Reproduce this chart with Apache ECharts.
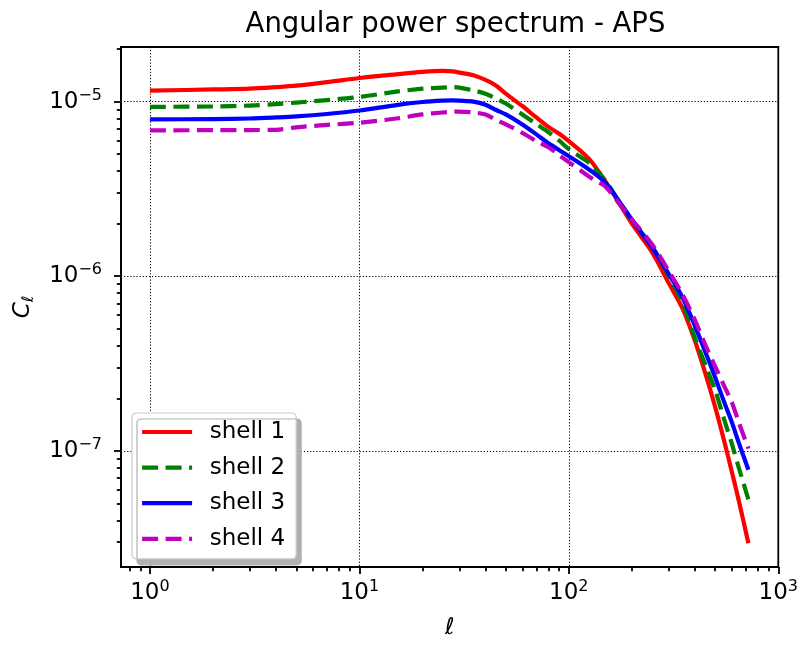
<!DOCTYPE html>
<html>
<head>
<meta charset="utf-8">
<script src="https://cdn.jsdelivr.net/npm/echarts@6/dist/echarts.min.js"></script>
<style>
  html, body { margin: 0; padding: 0; background: #fff; }
  #chart { width: 801px; height: 645px; }
</style>
</head>
<body>
<div id="chart"></div>
<script>
// Multipole moments and the angular power spectrum of each redshift shell
const ell = [1, 2, 3, 4, 5, 7, 10, 15, 20, 25, 28, 30, 35, 40, 45, 50, 60, 70, 80, 90, 100, 120, 130, 150, 170, 200, 250, 300, 350, 400, 450, 500, 550, 600, 650, 720];

const shell1 = [1.155e-5, 1.173e-5, 1.185e-5, 1.209e-5, 1.233e-5, 1.291e-5, 1.364e-5, 1.433e-5, 1.480e-5, 1.500e-5, 1.490e-5, 1.465e-5, 1.414e-5, 1.330e-5, 1.233e-5, 1.110e-5, 9.43e-6, 8.11e-6, 7.16e-6, 6.54e-6, 5.93e-6, 4.93e-6, 4.44e-6, 3.47e-6, 2.74e-6, 2.00e-6, 1.37e-6, 9.13e-7, 6.49e-7, 4.27e-7, 2.74e-7, 1.78e-7, 1.155e-7, 7.6e-8, 5.1e-8, 2.96e-8];
const shell2 = [9.33e-6, 9.37e-6, 9.49e-6, 9.68e-6, 9.87e-6, 1.020e-5, 1.063e-5, 1.140e-5, 1.185e-5, 1.201e-5, 1.209e-5, 1.201e-5, 1.158e-5, 1.110e-5, 1.040e-5, 9.74e-6, 8.44e-6, 7.43e-6, 6.67e-6, 5.97e-6, 5.34e-6, 4.62e-6, 4.27e-6, 3.51e-6, 2.79e-6, 2.08e-6, 1.48e-6, 1.00e-6, 7.02e-7, 4.44e-7, 3.08e-7, 2.22e-7, 1.53e-7, 1.10e-7, 7.9e-8, 5.27e-8];
const shell3 = [7.90e-6, 7.94e-6, 8.00e-6, 8.11e-6, 8.22e-6, 8.49e-6, 8.89e-6, 9.55e-6, 9.94e-6, 1.013e-5, 1.017e-5, 1.013e-5, 1.000e-5, 9.60e-6, 8.95e-6, 8.44e-6, 7.40e-6, 6.49e-6, 5.77e-6, 5.27e-6, 4.87e-6, 4.22e-6, 3.95e-6, 3.42e-6, 2.79e-6, 2.11e-6, 1.46e-6, 1.03e-6, 7.5e-7, 5.2e-7, 3.65e-7, 2.63e-7, 1.92e-7, 1.46e-7, 1.10e-7, 7.80e-8];
const shell4 = [6.84e-6, 6.86e-6, 6.87e-6, 6.89e-6, 7.12e-6, 7.35e-6, 7.57e-6, 8.00e-6, 8.44e-6, 8.66e-6, 8.74e-6, 8.77e-6, 8.66e-6, 8.44e-6, 7.85e-6, 7.40e-6, 6.62e-6, 5.93e-6, 5.48e-6, 4.93e-6, 4.50e-6, 3.85e-6, 3.60e-6, 3.25e-6, 2.70e-6, 2.11e-6, 1.52e-6, 1.07e-6, 7.8e-7, 5.6e-7, 4.0e-7, 3.04e-7, 2.37e-7, 1.90e-7, 1.44e-7, 1.03e-7];

const seriesNames = ['shell 1', 'shell 2', 'shell 3', 'shell 4'];
const seriesColors = ['#ff0000', '#008000', '#0000ff', '#bf00bf'];

// Decade ticks (labelled) and the 2..9 minor ticks between them
const xMajorTicks = [1, 10, 100, 1000];
const yMajorTicks = [1e-7, 1e-6, 1e-5];
const xMinorTicks = [0.8, 0.9, 2, 3, 4, 5, 6, 7, 8, 9, 20, 30, 40, 50, 60, 70, 80, 90, 200, 300, 400, 500, 600, 700, 800, 900];
const yMinorTicks = [3e-8, 4e-8, 5e-8, 6e-8, 7e-8, 8e-8, 9e-8, 2e-7, 3e-7, 4e-7, 5e-7, 6e-7, 7e-7, 8e-7, 9e-7, 2e-6, 3e-6, 4e-6, 5e-6, 6e-6, 7e-6, 8e-6, 9e-6, 2e-5];

const FONT = 'DejaVu Sans';
const X_MIN = Math.pow(10, -29 / 210), X_MAX = 1000;
const Y_MIN = Math.pow(10, -7.665), Y_MAX = Math.pow(10, -4.6875);

const powRich = {
  b: { fontFamily: FONT, fontSize: 23, color: '#000', lineHeight: 28, verticalAlign: 'middle' },
  s: { fontFamily: FONT, fontSize: 16, color: '#000', lineHeight: 16, verticalAlign: 'top' }
};
function powLabel(v) {
  const e = Math.round(Math.log10(v));
  return '{b|10}{s|' + (e < 0 ? '\u2212' + (-e) : e) + '}';
}

const tickLine = { show: true, lineStyle: { color: '#000', width: 1.8 } };
const gridLine = { show: true, lineStyle: { color: '#000', width: 1, type: [1.2, 1.9] } };

const chart = echarts.init(document.getElementById('chart'), null, { renderer: 'canvas' });

chart.setOption({
  animation: false,
  backgroundColor: '#fff',
  title: {
    text: 'Angular power spectrum - APS',
    left: 450.5,
    top: 6,
    textAlign: 'center',
    textStyle: { fontFamily: FONT, fontSize: 27.5, fontWeight: 'normal', color: '#000' }
  },
  grid: {
    left: 121, right: 21, top: 47, bottom: 74.5,
    show: true, borderColor: '#000', borderWidth: 1.8, backgroundColor: 'transparent'
  },
  legend: {
    orient: 'vertical',
    left: 132, top: 413,
    data: seriesNames,
    itemWidth: 50, itemHeight: 14, itemGap: 9.6,
    padding: [6, 11, 7, 8],
    backgroundColor: '#fff',
    borderColor: '#cccccc', borderWidth: 1.2, borderRadius: 4,
    shadowColor: '#b0b0b0', shadowBlur: 0, shadowOffsetX: 5, shadowOffsetY: 6,
    itemStyle: { color: 'transparent', borderWidth: 0, opacity: 0 },
    lineStyle: { width: 4.2 },
    textStyle: { fontFamily: FONT, fontSize: 23, color: '#000', lineHeight: 26, padding: [0, 0, 0, 12.6] }
  },
  xAxis: [{
    type: 'log', logBase: 10, min: X_MIN, max: X_MAX, position: 'bottom',
    name: 'ℓ', nameLocation: 'middle', nameGap: 50,
    nameTextStyle: { fontFamily: FONT, fontSize: 23, fontStyle: 'italic', color: '#000' },
    axisLine: { show: true, lineStyle: { color: '#000', width: 1.8 } },
    axisTick: Object.assign({ length: 7, customValues: xMajorTicks }, tickLine),
    axisLabel: { margin: 12, customValues: xMajorTicks, formatter: powLabel, rich: powRich },
    splitLine: gridLine,
    minorTick: { show: false }
  }, {
    type: 'log', logBase: 10, min: X_MIN, max: X_MAX, position: 'bottom',
    axisLine: { show: false },
    axisTick: Object.assign({ length: 4.2, customValues: xMinorTicks }, tickLine),
    axisLabel: { show: false },
    splitLine: { show: false }
  }],
  yAxis: [{
    type: 'log', logBase: 10, min: Y_MIN, max: Y_MAX, position: 'left',
    name: '{c|C}{l|ℓ}', nameLocation: 'middle', nameGap: 84, nameRotate: 90,
    nameTextStyle: {
      rich: {
        c: { fontFamily: FONT, fontSize: 23, fontStyle: 'italic', color: '#000', lineHeight: 28, verticalAlign: 'middle' },
        l: { fontFamily: FONT, fontSize: 16, fontStyle: 'italic', color: '#000', lineHeight: 16, verticalAlign: 'bottom' }
      }
    },
    axisLine: { show: true, lineStyle: { color: '#000', width: 1.8 } },
    axisTick: Object.assign({ length: 7, customValues: yMajorTicks }, tickLine),
    axisLabel: { margin: 19, customValues: yMajorTicks, formatter: powLabel, rich: powRich },
    splitLine: gridLine,
    minorTick: { show: false }
  }, {
    type: 'log', logBase: 10, min: Y_MIN, max: Y_MAX, position: 'left',
    axisLine: { show: false },
    axisTick: Object.assign({ length: 4.2, customValues: yMinorTicks }, tickLine),
    axisLabel: { show: false },
    splitLine: { show: false }
  }],
  series: [shell1, shell2, shell3, shell4].map((vals, i) => ({
    name: seriesNames[i],
    type: 'line',
    xAxisIndex: 0, yAxisIndex: 0,
    data: ell.map((l, k) => [l, vals[k]]),
    showSymbol: false, symbol: 'none',
    smooth: 0.3,
    color: seriesColors[i],
    lineStyle: { color: seriesColors[i], width: 4.2, type: i % 2 === 1 ? [16, 7.5] : 'solid', cap: 'butt', join: 'round' }
  }))
});
</script>
</body>
</html>
